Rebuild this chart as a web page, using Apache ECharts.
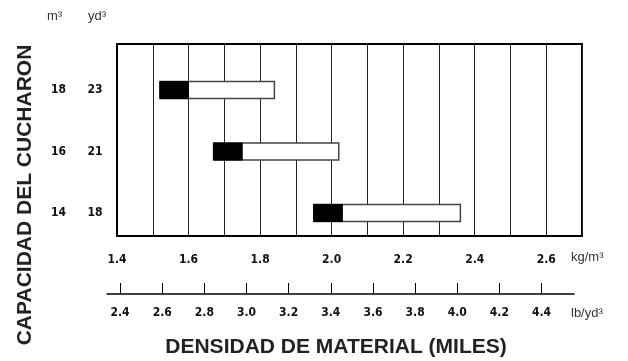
<!DOCTYPE html>
<html>
<head>
<meta charset="utf-8">
<script src="https://cdn.jsdelivr.net/npm/echarts@6/dist/echarts.min.js"></script>
<style>
  html, body { margin: 0; padding: 0; background: #fff; }
  #chart { width: 628px; height: 361px; }
</style>
</head>
<body>
<div id="chart"></div>
<script>
// capacidad del cucharon (m3 / yd3), de abajo hacia arriba
var capM3 = ['14', '16', '18'];
var capYd3 = ['18', '21', '23'];
// densidad kg/m3 (miles): inicio, fin del tramo negro, fin del tramo blanco
var barStart = [1.95, 1.67, 1.52];
var barMid = [2.03, 1.75, 1.60];
var barEnd = [2.36, 2.02, 1.84];
// etiquetas de las escalas
var kgTicks = [1.4, 1.6, 1.8, 2.0, 2.2, 2.4, 2.6];
var lbTicks = [2.4, 2.6, 2.8, 3.0, 3.2, 3.4, 3.6, 3.8, 4.0, 4.2, 4.4];

var labelFont = '"DejaVu Sans Condensed", "Liberation Sans Narrow", Arial, sans-serif';
var titleFont = '"Liberation Sans", Arial, sans-serif';

var data = [];
for (var i = 0; i < capM3.length; i++) {
    data.push([barStart[i], barMid[i], barEnd[i], i]);
}

var chart = echarts.init(document.getElementById('chart'));

var option = {
    animation: false,
    grid: [
        {left: 117, right: 46, top: 44, bottom: 125, show: true,
         borderColor: '#000', borderWidth: 2, backgroundColor: 'transparent'},
        {left: 107, right: 54, top: 284, height: 10}
    ],
    xAxis: [
        {
            gridIndex: 0, type: 'value', min: 1.4, max: 2.7, interval: 0.1,
            axisLine: {onZero: false, lineStyle: {color: '#000', width: 2}},
            axisTick: {show: false},
            splitLine: {show: true, lineStyle: {color: '#222', width: 1}},
            axisLabel: {
                customValues: kgTicks, margin: 18, color: '#111', fontFamily: labelFont,
                fontWeight: 'bold', fontSize: 12,
                formatter: function (v) { return v.toFixed(1); }
            }
        },
        {
            gridIndex: 1, type: 'value', min: 2.338, max: 4.554,
            axisLine: {show: true, onZero: false, lineStyle: {color: '#000', width: 1.5}},
            axisTick: {show: true, inside: true, length: 11, customValues: lbTicks,
                       lineStyle: {color: '#000', width: 1}},
            splitLine: {show: false},
            axisLabel: {
                customValues: lbTicks, margin: 13, color: '#111', fontFamily: labelFont,
                fontWeight: 'bold', fontSize: 12,
                formatter: function (v) { return v.toFixed(1); }
            }
        }
    ],
    yAxis: [
        {
            gridIndex: 0, type: 'value', min: -0.375, max: 2.75,
            axisLine: {show: true, onZero: false, lineStyle: {color: '#000', width: 2}},
            axisTick: {show: false},
            splitLine: {show: false},
            axisLabel: {
                customValues: [0, 1, 2], margin: 15,
                formatter: function (v) {
                    var k = Math.round(v);
                    return '{a|' + capM3[k] + '}{b|' + capYd3[k] + '}';
                },
                rich: {
                    a: {width: 37, align: 'left', fontFamily: labelFont, fontWeight: 'bold',
                        fontSize: 12, color: '#111'},
                    b: {width: 14, align: 'center', fontFamily: labelFont, fontWeight: 'bold',
                        fontSize: 12, color: '#111'}
                }
            }
        },
        {gridIndex: 1, type: 'value', show: false}
    ],
    series: [
        {
            type: 'custom',
            xAxisIndex: 0,
            yAxisIndex: 0,
            data: data,
            encode: {x: [0, 1, 2], y: 3},
            renderItem: function (params, api) {
                var p0 = api.coord([api.value(0), api.value(3)]);
                var p1 = api.coord([api.value(1), api.value(3)]);
                var p2 = api.coord([api.value(2), api.value(3)]);
                var h = 17;
                return {
                    type: 'group',
                    children: [
                        {type: 'rect', shape: {x: p0[0], y: p0[1] - h / 2, width: p2[0] - p0[0], height: h},
                         style: {fill: '#fff', stroke: '#444', lineWidth: 1.5}},
                        {type: 'rect', shape: {x: p0[0], y: p0[1] - h / 2, width: p1[0] - p0[0], height: h},
                         style: {fill: '#000', stroke: '#000', lineWidth: 1}}
                    ]
                };
            }
        }
    ],
    graphic: [
        {type: 'text', left: 47, top: 10,
         style: {text: 'm³', font: '13px ' + titleFont, fill: '#333'}},
        {type: 'text', left: 88, top: 10,
         style: {text: 'yd³', font: '13px ' + titleFont, fill: '#333'}},
        {type: 'text', left: 571, top: 251,
         style: {text: 'kg/m³', font: '13px ' + titleFont, fill: '#333'}},
        {type: 'text', left: 571, top: 307,
         style: {text: 'lb/yd³', font: '13px ' + titleFont, fill: '#333'}},
        {type: 'text', x: 25, y: 195, rotation: Math.PI / 2,
         style: {text: 'CAPACIDAD DEL CUCHARON', font: 'bold 21px ' + titleFont, fill: '#222',
                 align: 'center', verticalAlign: 'middle'}},
        {type: 'text', x: 336, y: 347,
         style: {text: 'DENSIDAD DE MATERIAL (MILES)', font: 'bold 21px ' + titleFont, fill: '#222',
                 align: 'center', verticalAlign: 'middle'}}
    ]
};

chart.setOption(option);
</script>
</body>
</html>
